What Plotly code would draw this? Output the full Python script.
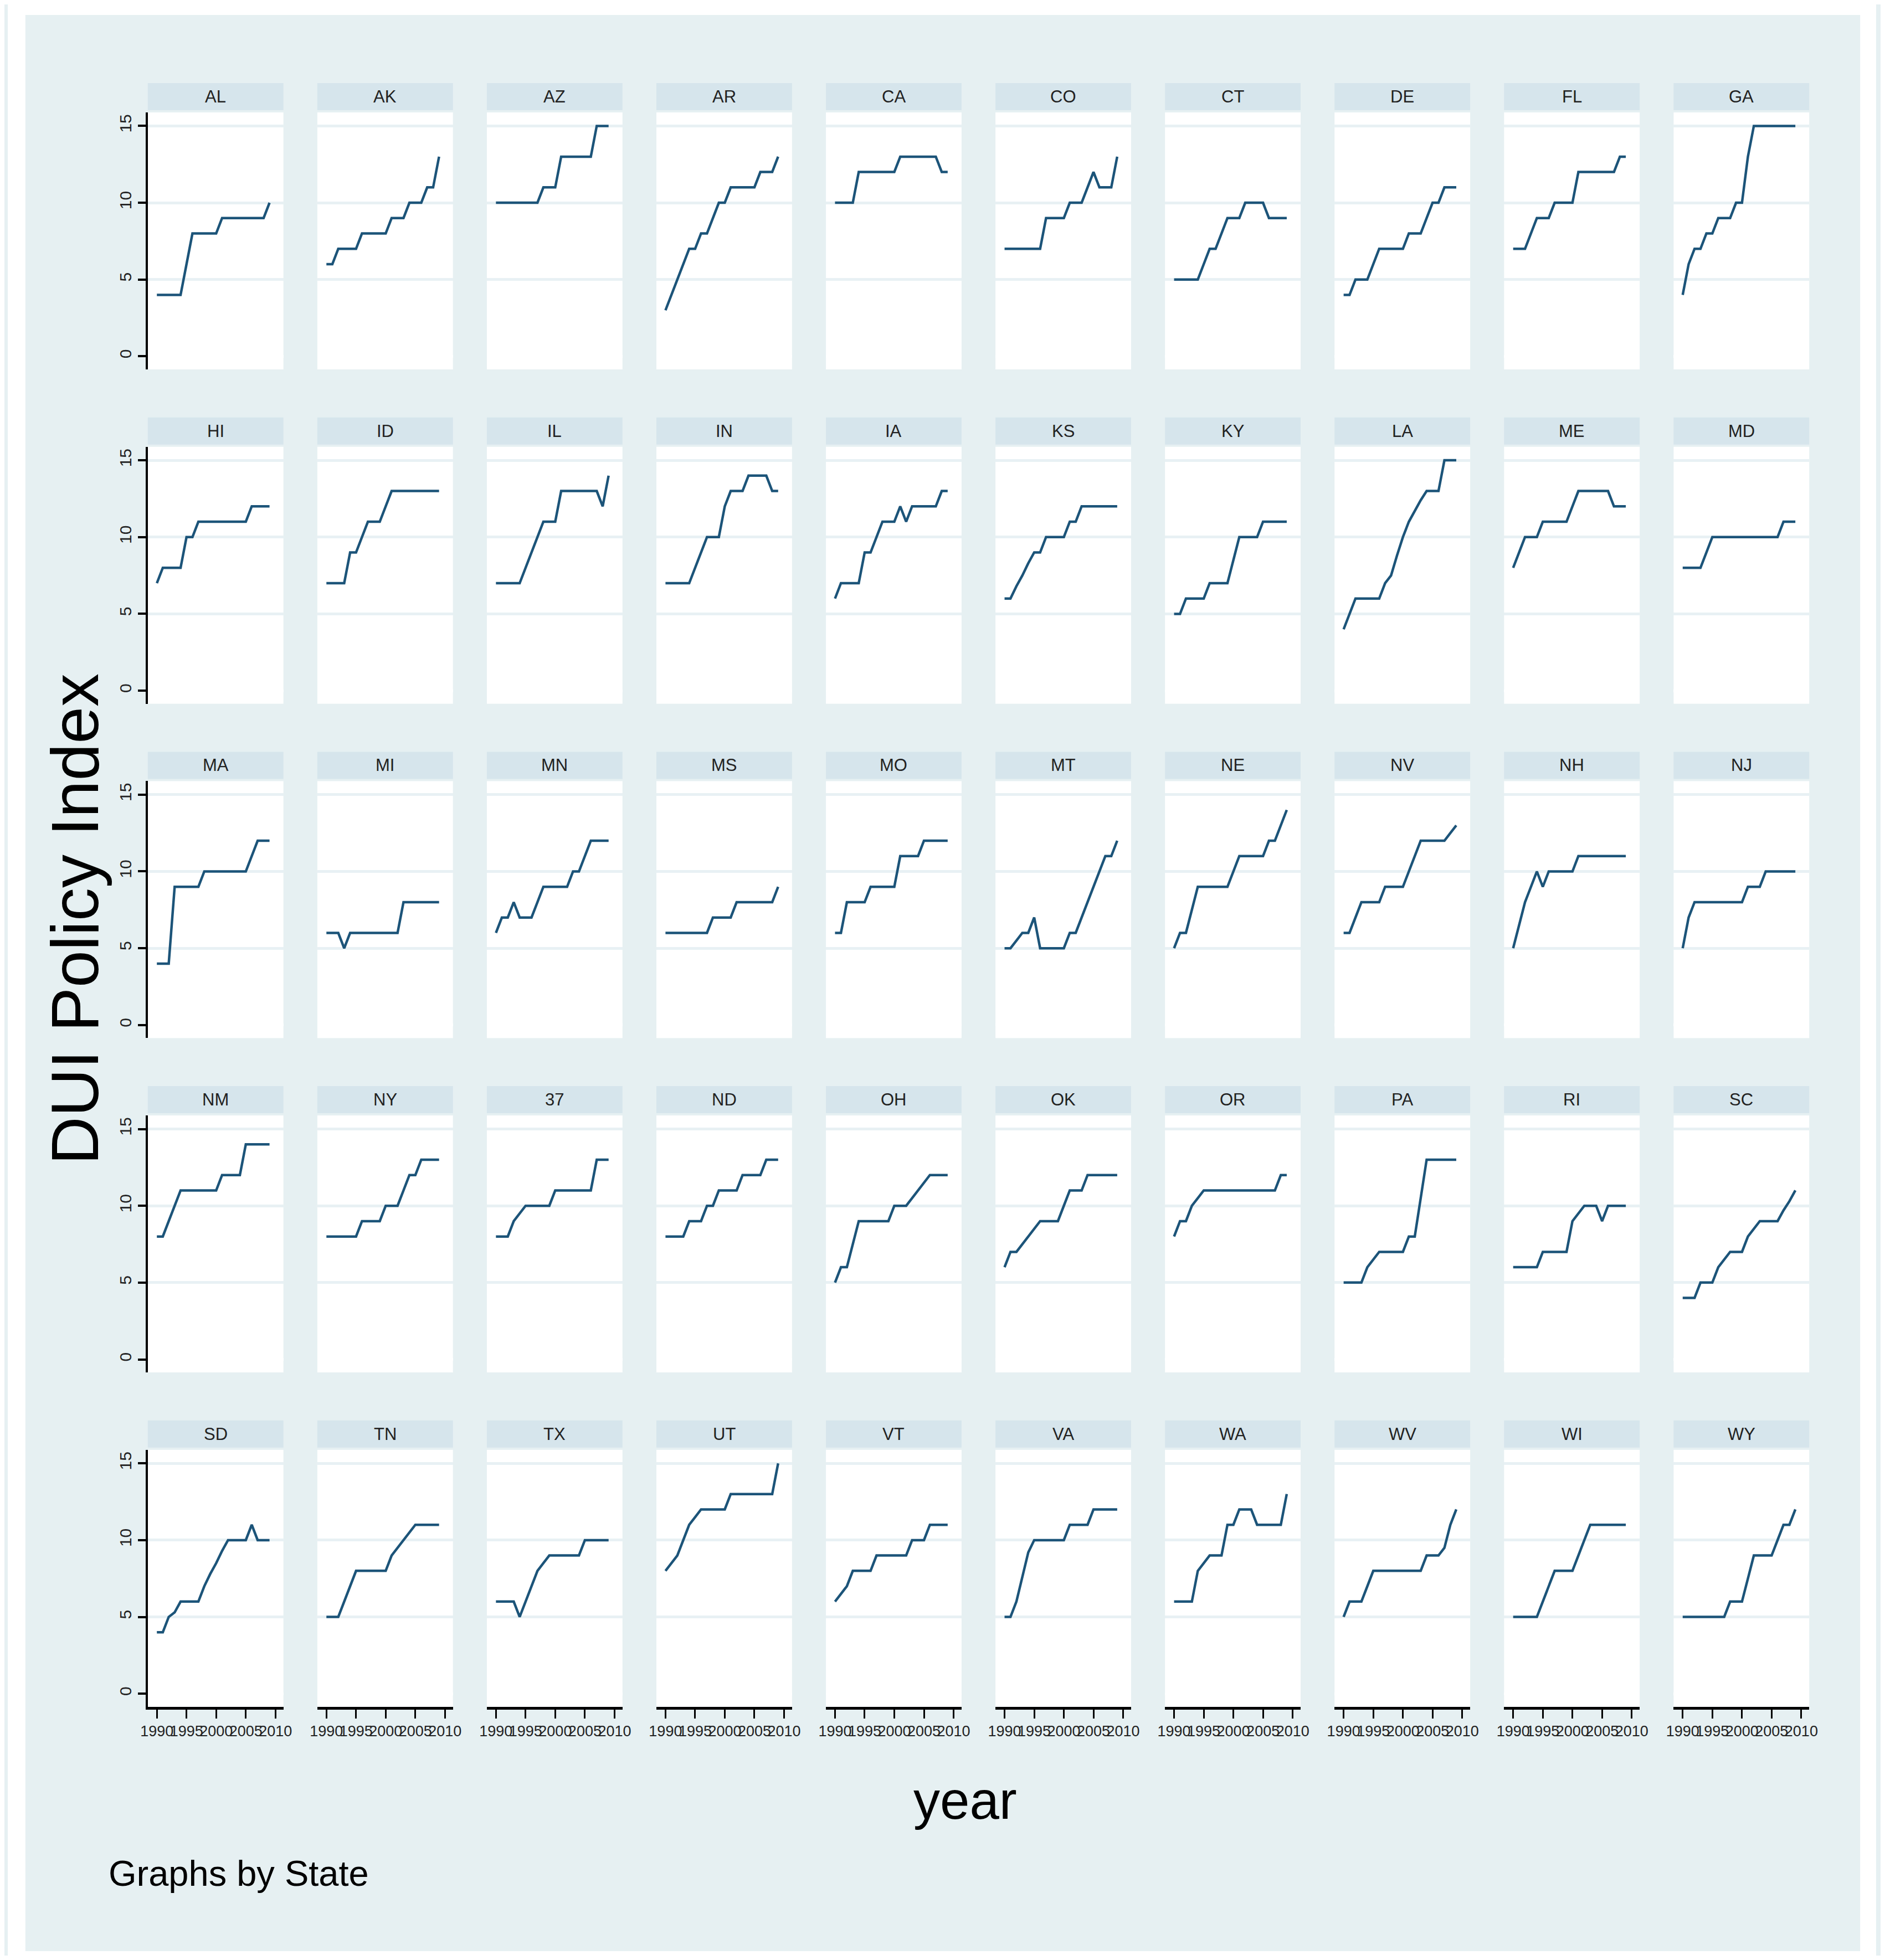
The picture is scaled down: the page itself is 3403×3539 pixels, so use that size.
import plotly.graph_objects as go

# ---- data: DUI policy index by state, 1990-2009 ----
years = list(range(1990, 2010))

states = ["AL", "AK", "AZ", "AR", "CA", "CO", "CT", "DE", "FL", "GA",
          "HI", "ID", "IL", "IN", "IA", "KS", "KY", "LA", "ME", "MD",
          "MA", "MI", "MN", "MS", "MO", "MT", "NE", "NV", "NH", "NJ",
          "NM", "NY", "37", "ND", "OH", "OK", "OR", "PA", "RI", "SC",
          "SD", "TN", "TX", "UT", "VT", "VA", "WA", "WV", "WI", "WY"]

AL = [4, 4, 4, 4, 4, 6, 8, 8, 8, 8, 8, 9, 9, 9, 9, 9, 9, 9, 9, 10]
AK = [6, 6, 7, 7, 7, 7, 8, 8, 8, 8, 8, 9, 9, 9, 10, 10, 10, 11, 11, 13]
AZ = [10, 10, 10, 10, 10, 10, 10, 10, 11, 11, 11, 13, 13, 13, 13, 13, 13, 15, 15, 15]
AR = [3, 4, 5, 6, 7, 7, 8, 8, 9, 10, 10, 11, 11, 11, 11, 11, 12, 12, 12, 13]
CA = [10, 10, 10, 10, 12, 12, 12, 12, 12, 12, 12, 13, 13, 13, 13, 13, 13, 13, 12, 12]
CO = [7, 7, 7, 7, 7, 7, 7, 9, 9, 9, 9, 10, 10, 10, 11, 12, 11, 11, 11, 13]
CT = [5, 5, 5, 5, 5, 6, 7, 7, 8, 9, 9, 9, 10, 10, 10, 10, 9, 9, 9, 9]
DE = [4, 4, 5, 5, 5, 6, 7, 7, 7, 7, 7, 8, 8, 8, 9, 10, 10, 11, 11, 11]
FL = [7, 7, 7, 8, 9, 9, 9, 10, 10, 10, 10, 12, 12, 12, 12, 12, 12, 12, 13, 13]
GA = [4, 6, 7, 7, 8, 8, 9, 9, 9, 10, 10, 13, 15, 15, 15, 15, 15, 15, 15, 15]

HI = [7, 8, 8, 8, 8, 10, 10, 11, 11, 11, 11, 11, 11, 11, 11, 11, 12, 12, 12, 12]
ID = [7, 7, 7, 7, 9, 9, 10, 11, 11, 11, 12, 13, 13, 13, 13, 13, 13, 13, 13, 13]
IL = [7, 7, 7, 7, 7, 8, 9, 10, 11, 11, 11, 13, 13, 13, 13, 13, 13, 13, 12, 14]
IN = [7, 7, 7, 7, 7, 8, 9, 10, 10, 10, 12, 13, 13, 13, 14, 14, 14, 14, 13, 13]
IA = [6, 7, 7, 7, 7, 9, 9, 10, 11, 11, 11, 12, 11, 12, 12, 12, 12, 12, 13, 13]
KS = [6, 6, 6.8, 7.5, 8.3, 9, 9, 10, 10, 10, 10, 11, 11, 12, 12, 12, 12, 12, 12, 12]
KY = [5, 5, 6, 6, 6, 6, 7, 7, 7, 7, 8.5, 10, 10, 10, 10, 11, 11, 11, 11, 11]
LA = [4, 5, 6, 6, 6, 6, 6, 7, 7.5, 8.8, 10, 11, 11.7, 12.4, 13, 13, 13, 15, 15, 15]
ME = [8, 9, 10, 10, 10, 11, 11, 11, 11, 11, 12, 13, 13, 13, 13, 13, 13, 12, 12, 12]
MD = [8, 8, 8, 8, 9, 10, 10, 10, 10, 10, 10, 10, 10, 10, 10, 10, 10, 11, 11, 11]

MA = [4, 4, 4, 9, 9, 9, 9, 9, 10, 10, 10, 10, 10, 10, 10, 10, 11, 12, 12, 12]
MI = [6, 6, 6, 5, 6, 6, 6, 6, 6, 6, 6, 6, 6, 8, 8, 8, 8, 8, 8, 8]
MN = [6, 7, 7, 8, 7, 7, 7, 8, 9, 9, 9, 9, 9, 10, 10, 11, 12, 12, 12, 12]
MS = [6, 6, 6, 6, 6, 6, 6, 6, 7, 7, 7, 7, 8, 8, 8, 8, 8, 8, 8, 9]
MO = [6, 6, 8, 8, 8, 8, 9, 9, 9, 9, 9, 11, 11, 11, 11, 12, 12, 12, 12, 12]
MT = [5, 5, 5.5, 6, 6, 7, 5, 5, 5, 5, 5, 6, 6, 7, 8, 9, 10, 11, 11, 12]
NE = [5, 6, 6, 7.5, 9, 9, 9, 9, 9, 9, 10, 11, 11, 11, 11, 11, 12, 12, 13, 14]
NV = [6, 6, 7, 8, 8, 8, 8, 9, 9, 9, 9, 10, 11, 12, 12, 12, 12, 12, 12.5, 13]
NH = [5, 6.5, 8, 9, 10, 9, 10, 10, 10, 10, 10, 11, 11, 11, 11, 11, 11, 11, 11, 11]
NJ = [5, 7, 8, 8, 8, 8, 8, 8, 8, 8, 8, 9, 9, 9, 10, 10, 10, 10, 10, 10]

NM = [8, 8, 9, 10, 11, 11, 11, 11, 11, 11, 11, 12, 12, 12, 12, 14, 14, 14, 14, 14]
NY = [8, 8, 8, 8, 8, 8, 9, 9, 9, 9, 10, 10, 10, 11, 12, 12, 13, 13, 13, 13]
S37 = [8, 8, 8, 9, 9.5, 10, 10, 10, 10, 10, 11, 11, 11, 11, 11, 11, 11, 13, 13, 13]
ND = [8, 8, 8, 8, 9, 9, 9, 10, 10, 11, 11, 11, 11, 12, 12, 12, 12, 13, 13, 13]
OH = [5, 6, 6, 7.5, 9, 9, 9, 9, 9, 9, 10, 10, 10, 10.5, 11, 11.5, 12, 12, 12, 12]
OK = [6, 7, 7, 7.5, 8, 8.5, 9, 9, 9, 9, 10, 11, 11, 11, 12, 12, 12, 12, 12, 12]
OR = [8, 9, 9, 10, 10.5, 11, 11, 11, 11, 11, 11, 11, 11, 11, 11, 11, 11, 11, 12, 12]
PA = [5, 5, 5, 5, 6, 6.5, 7, 7, 7, 7, 7, 8, 8, 10.5, 13, 13, 13, 13, 13, 13]
RI = [6, 6, 6, 6, 6, 7, 7, 7, 7, 7, 9, 9.5, 10, 10, 10, 9, 10, 10, 10, 10]
SC = [4, 4, 4, 5, 5, 5, 6, 6.5, 7, 7, 7, 8, 8.5, 9, 9, 9, 9, 9.7, 10.3, 11]

SD = [4, 4, 5, 5.3, 6, 6, 6, 6, 7, 7.8, 8.5, 9.3, 10, 10, 10, 10, 11, 10, 10, 10]
TN = [5, 5, 5, 6, 7, 8, 8, 8, 8, 8, 8, 9, 9.5, 10, 10.5, 11, 11, 11, 11, 11]
TX = [6, 6, 6, 6, 5, 6, 7, 8, 8.5, 9, 9, 9, 9, 9, 9, 10, 10, 10, 10, 10]
UT = [8, 8.5, 9, 10, 11, 11.5, 12, 12, 12, 12, 12, 13, 13, 13, 13, 13, 13, 13, 13, 15]
VT = [6, 6.5, 7, 8, 8, 8, 8, 9, 9, 9, 9, 9, 9, 10, 10, 10, 11, 11, 11, 11]
VA = [5, 5, 6, 7.6, 9.2, 10, 10, 10, 10, 10, 10, 11, 11, 11, 11, 12, 12, 12, 12, 12]
WA = [6, 6, 6, 6, 8, 8.5, 9, 9, 9, 11, 11, 12, 12, 12, 11, 11, 11, 11, 11, 13]
WV = [5, 6, 6, 6, 7, 8, 8, 8, 8, 8, 8, 8, 8, 8, 9, 9, 9, 9.5, 11, 12]
WI = [5, 5, 5, 5, 5, 6, 7, 8, 8, 8, 8, 9, 10, 11, 11, 11, 11, 11, 11, 11]
WY = [5, 5, 5, 5, 5, 5, 5, 5, 6, 6, 6, 7.5, 9, 9, 9, 9, 10, 11, 11, 12]

index_values = [AL, AK, AZ, AR, CA, CO, CT, DE, FL, GA,
                HI, ID, IL, IN, IA, KS, KY, LA, ME, MD,
                MA, MI, MN, MS, MO, MT, NE, NV, NH, NJ,
                NM, NY, S37, ND, OH, OK, OR, PA, RI, SC,
                SD, TN, TX, UT, VT, VA, WA, WV, WI, WY]

x_ticks = [1990, 1995, 2000, 2005, 2010]
y_ticks = [0, 5, 10, 15]

# ---- look ----
# the page body keeps an 8px margin, so the figure is made 16px smaller than
# the window and every position below is measured from the window corner
OFF = 8
W, H = 3403 - 2 * OFF, 3539 - 2 * OFF
BG = "#e6f0f2"
STRIP = "#d6e5ec"
GRID = "#e8f1f4"
LINE = "#1c5479"
SANS = "Liberation Sans, Arial, sans-serif"

NCOL = 10
COL_LEFT0, COL_PITCH, PANEL_W = 255, 308.8, 247
ROW_TOP0, ROW_PITCH, PANEL_H = 203, 603.7, 464
STRIP_H, STRIP_GAP = 49, 4


def px(x):
    return (x - OFF) / W


def py(y):
    return 1 - (y - OFF) / H


fig = go.Figure()
shapes = []
annotations = []
axes = {}

# white frame around the bluish graph region
for x0, y0, x1, y1 in [(0, 0, 3403, 27), (0, 3523, 3403, 3539), (0, 0, 32, 3539), (3374, 0, 3403, 3539)]:
    shapes.append(dict(type="rect", xref="paper", yref="paper", layer="below",
                       x0=px(x0), x1=px(x1), y0=py(y1), y1=py(y0),
                       fillcolor="white", line=dict(width=0)))

nrow = (len(states) + NCOL - 1) // NCOL
for i, (st, vals) in enumerate(zip(states, index_values)):
    r, c = divmod(i, NCOL)
    n = i + 1
    sfx = "" if n == 1 else str(n)
    fig.add_trace(go.Scatter(x=years, y=vals, mode="lines",
                             line=dict(color=LINE, width=4.5),
                             xaxis="x" + sfx, yaxis="y" + sfx,
                             showlegend=False, hoverinfo="skip"))

    left = COL_LEFT0 + c * COL_PITCH
    top = ROW_TOP0 + r * ROW_PITCH
    bottom_row = (r == nrow - 1)
    first_col = (c == 0)

    axes["xaxis" + sfx] = dict(
        domain=[px(left), px(left + PANEL_W)], anchor="y" + sfx,
        range=[1988.47, 2011.34], showgrid=False, zeroline=False,
        tickvals=x_ticks, ticktext=[str(t) for t in x_ticks],
        showticklabels=bottom_row, tickangle=0,
        ticks="outside" if bottom_row else "", ticklen=16, tickwidth=3, tickcolor="black",
        showline=bottom_row, linecolor="black", linewidth=5,
        tickfont=dict(family=SANS, size=27, color="#222"))
    axes["yaxis" + sfx] = dict(
        domain=[py(top + PANEL_H), py(top)], anchor="x" + sfx,
        range=[-0.85, 15.88], tickvals=y_ticks,
        showgrid=True, gridcolor=GRID, gridwidth=5,
        zeroline=True, zerolinecolor="white", zerolinewidth=5,
        showticklabels=first_col, tickangle=-90,
        ticks="outside" if first_col else "", ticklen=14, tickwidth=4, tickcolor="black",
        showline=first_col, linecolor="black", linewidth=4,
        tickfont=dict(family=SANS, size=30, color="#222"))

    # strip header
    shapes.append(dict(type="rect", xref="paper", yref="paper", layer="below",
                       x0=px(left), x1=px(left + PANEL_W),
                       y0=py(top - STRIP_GAP), y1=py(top - STRIP_GAP - STRIP_H),
                       fillcolor=STRIP, line=dict(width=0)))
    annotations.append(dict(text=st, xref="paper", yref="paper", showarrow=False,
                            x=px(left + PANEL_W / 2), y=py(top - STRIP_GAP - STRIP_H / 2),
                            xanchor="center", yanchor="middle",
                            font=dict(family=SANS, size=31, color="#222")))

annotations += [
    dict(text="DUI Policy Index", xref="paper", yref="paper", showarrow=False,
         x=px(122), y=py(1659), xanchor="center", yanchor="middle", textangle=-90,
         font=dict(family=SANS, size=120, color="black")),
    dict(text="year", xref="paper", yref="paper", showarrow=False,
         x=px(1744), y=py(3250), xanchor="center", yanchor="middle",
         font=dict(family=SANS, size=96, color="black")),
    dict(text="Graphs by State", xref="paper", yref="paper", showarrow=False,
         x=px(182), y=py(3382), xanchor="left", yanchor="middle",
         font=dict(family=SANS, size=65, color="black")),
]

fig.update_layout(
    width=W, height=H, autosize=False,
    margin=dict(l=0, r=0, t=0, b=0),
    paper_bgcolor=BG, plot_bgcolor="white",
    shapes=shapes, annotations=annotations,
    **axes
)

fig.write_html("out.html")
